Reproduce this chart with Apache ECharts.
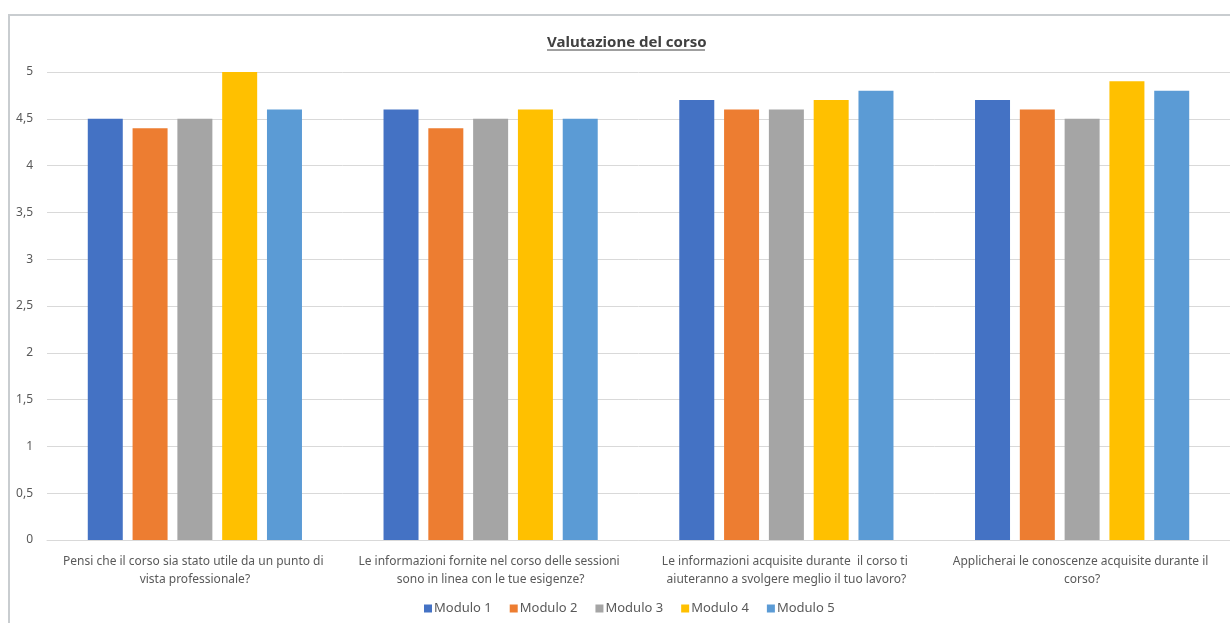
<!DOCTYPE html>
<html>
<head>
<meta charset="utf-8">
<script src="https://cdn.jsdelivr.net/npm/echarts@6/dist/echarts.min.js"></script>
<style>
    html, body { margin: 0; padding: 0; background: #fff; }
    #main { width: 1230px; height: 623px; }
</style>
</head>
<body>
<div id="main"></div>
<script>
// dati
var categorie = [
    'Pensi che il corso sia stato utile da un punto di vista professionale?',
    'Le informazioni fornite nel corso delle sessioni sono in linea con le tue esigenze?',
    'Le informazioni acquisite durante  il corso ti aiuteranno a svolgere meglio il tuo lavoro?',
    'Applicherai le conoscenze acquisite durante il corso?'
];
var moduli = ['Modulo 1', 'Modulo 2', 'Modulo 3', 'Modulo 4', 'Modulo 5'];
var modulo1 = [4.5, 4.6, 4.7, 4.7];
var modulo2 = [4.4, 4.4, 4.6, 4.6];
var modulo3 = [4.5, 4.5, 4.6, 4.5];
var modulo4 = [5, 4.6, 4.7, 4.9];
var modulo5 = [4.6, 4.5, 4.8, 4.8];
var colori = ['#4472c4', '#ed7d31', '#a5a5a5', '#ffc000', '#5b9bd5'];

(function () {
    var myechart = echarts.init(document.getElementById('main'));
    var valori = [modulo1, modulo2, modulo3, modulo4, modulo5];
    var font = 'Noto Sans';

    var series = moduli.map(function (nome, i) {
        return {
            name: nome,
            type: 'bar',
            data: valori[i],
            barWidth: 35,
            barGap: '28%',
            itemStyle: { color: colori[i] }
        };
    });

    var option = {
        animation: false,
        color: colori,
        title: {
            text: 'Valutazione del corso',
            left: 542,
            top: 30,
            textStyle: {
                fontFamily: font,
                fontSize: 15,
                fontWeight: 'bold',
                color: '#404040'
            }
        },
        // bordo e sottolineatura del titolo
        graphic: [
            {
                type: 'polyline',
                shape: { points: [[9, 623], [9, 15], [1230, 15]] },
                style: { stroke: '#c9cdd0', lineWidth: 2, fill: null }
            },
            {
                type: 'line',
                shape: { x1: 547, y1: 50, x2: 705, y2: 50 },
                style: { stroke: '#404040', lineWidth: 1 }
            }
        ],
        legend: {
            data: moduli,
            bottom: 3,
            left: 419,
            itemWidth: 8,
            itemHeight: 8,
            itemGap: 18,
            icon: 'rect',
            textStyle: { fontFamily: font, fontSize: 13, color: '#595959', padding: [0, 0, 0, -3] }
        },
        grid: {
            left: 47,
            right: 0,
            top: 72,
            bottom: 83
        },
        xAxis: {
            type: 'category',
            data: categorie,
            axisTick: { show: false },
            axisLine: { lineStyle: { color: '#d9d9d9' } },
            axisLabel: {
                color: '#595959',
                fontFamily: font,
                fontSize: 12,
                width: 285,
                overflow: 'break',
                lineHeight: 18,
                margin: 13,
                interval: 0
            }
        },
        yAxis: {
            type: 'value',
            min: 0,
            max: 5,
            interval: 0.5,
            axisLine: { show: false },
            axisTick: { show: false },
            splitLine: { lineStyle: { color: '#d9d9d9' } },
            axisLabel: {
                color: '#595959',
                fontFamily: font,
                fontSize: 12,
                margin: 14,
                formatter: function (v) { return String(v).replace('.', ','); }
            }
        },
        series: series
    };
    myechart.setOption(option);
})();
</script>
</body>
</html>
